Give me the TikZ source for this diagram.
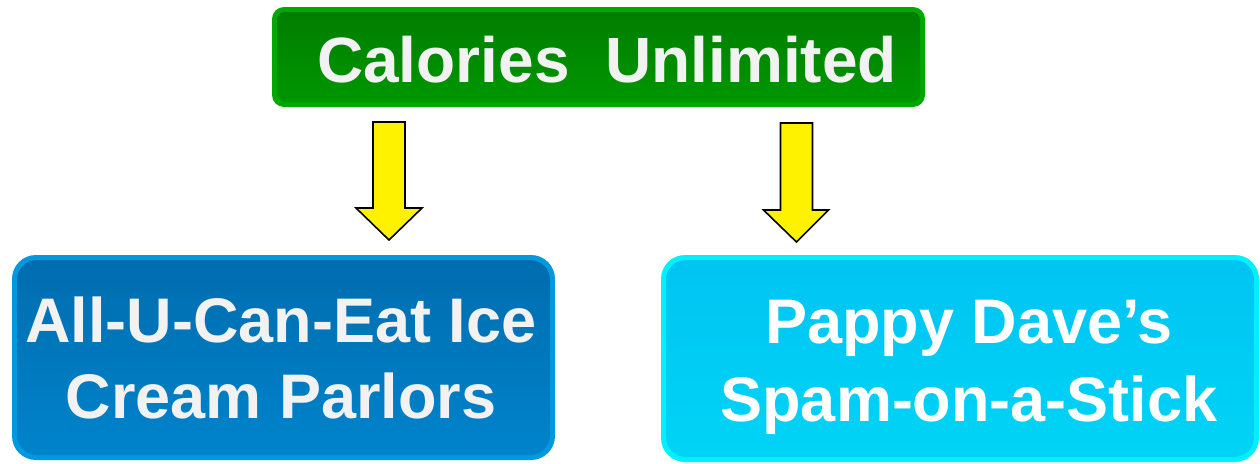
\documentclass[tikz,border=0pt]{standalone}
\usepackage{fontspec}
\setmainfont{Liberation Sans}
\definecolor{gEdge}{HTML}{00A800}
\definecolor{gTop}{HTML}{007C00}
\definecolor{gMid}{HTML}{007400}
\definecolor{gBot}{HTML}{009800}
\definecolor{bEdge}{HTML}{0099E0}
\definecolor{bTop}{HTML}{006CAE}
\definecolor{bMid}{HTML}{0068A8}
\definecolor{bBot}{HTML}{0084CC}
\definecolor{cEdge}{HTML}{00F0FF}
\definecolor{cTop}{HTML}{00C4F2}
\definecolor{cMid}{HTML}{00BEF0}
\definecolor{cBot}{HTML}{00D4F6}
\definecolor{txtw}{HTML}{F2F2F2}
\tikzset{
  glossy/.style n args={5}{draw=none, inner sep=0pt, rounded corners=#1, fill=#2,
    path picture={\shade[top color=#3, middle color=#4, bottom color=#5, rounded corners=#1-4pt]
      ([shift={(5pt,-5pt)}]path picture bounding box.north west) rectangle
      ([shift={(-5pt,5pt)}]path picture bounding box.south east);}},
  bigtext/.style={anchor=base, inner sep=0pt, text=#1, font=\bfseries\fontsize{63}{70}\selectfont},
  toptext/.style={anchor=base, inner sep=0pt, text=txtw, font=\bfseries\fontsize{64}{70}\selectfont},
  yarrow/.style={draw=black, line width=1.6pt, fill=yellow, line join=miter},
}
\begin{document}
\begin{tikzpicture}[x=1pt,y=-1pt]
\useasboundingbox (0,0) rectangle (1260,463);
% boxes
\node[glossy={12pt}{gEdge}{gTop}{gMid}{gBot}, minimum width=653pt, minimum height=100pt] (top) at (598.5,57) {};
\node[glossy={24pt}{bEdge}{bTop}{bMid}{bBot}, minimum width=543pt, minimum height=205pt] (left) at (283.5,357.5) {};
\node[glossy={24pt}{cEdge}{cTop}{cMid}{cBot}, minimum width=598pt, minimum height=207pt] (right) at (960,358.5) {};
% texts
\node[toptext] (toplabel) at (607,82) {Calories~~Unlimited};
\node[bigtext=txtw] (leftA) at (281,342) {All-U-Can-Eat Ice};
\node[bigtext=txtw] (leftB) at (281,418) {Cream Parlors};
\node[bigtext=white] (rightA) at (969,343) {Pappy Dave’s};
\node[bigtext=white] (rightB) at (969,421) {Spam-on-a-Stick};
% arrows
\coordinate (a1) at (389,122);
\coordinate (a2) at (796.5,123);
\draw[yarrow] ([xshift=-16pt]a1) -- ([xshift=16pt]a1) -- ([shift={(16pt,-86pt)}]a1) -- ([shift={(33pt,-86pt)}]a1)
  -- ([shift={(0pt,-118pt)}]a1) -- ([shift={(-33pt,-86pt)}]a1) -- ([shift={(-16pt,-86pt)}]a1) -- cycle;
\draw[yarrow] ([xshift=-16pt]a2) -- ([xshift=16pt]a2) -- ([shift={(16pt,-87pt)}]a2) -- ([shift={(32pt,-87pt)}]a2)
  -- ([shift={(0pt,-119pt)}]a2) -- ([shift={(-33pt,-87pt)}]a2) -- ([shift={(-16pt,-87pt)}]a2) -- cycle;
\end{tikzpicture}
\end{document}
